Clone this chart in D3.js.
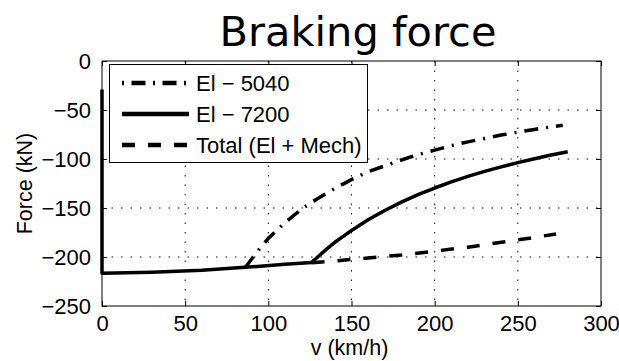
<!DOCTYPE html>
<html>
<head>
<meta charset="utf-8">
<script src="https://cdn.jsdelivr.net/npm/d3@7"></script>
<style>
  body { margin: 0; background: #fff; }
  svg text { font-family: "Liberation Sans", Arial, sans-serif; fill: #000; }
</style>
</head>
<body>
<div id="chart"></div>
<script>
const xTicks = [0, 50, 100, 150, 200, 250, 300];
const yTicks = [0, -50, -100, -150, -200, -250];
const seriesNames = ["El \u2212 5040", "El \u2212 7200", "Total (El + Mech)"];

// [v km/h, force kN]
const el5040 = [
  [86, -211], [90, -202], [95, -191], [100, -181], [105, -173], [110, -165],
  [120, -151], [130, -140], [140, -130], [150, -121], [160, -113], [170, -107],
  [180, -101], [190, -95.5], [200, -91], [210, -86.4], [220, -82.5], [230, -79],
  [240, -75.6], [250, -72.6], [260, -69.8], [270, -67.2], [277, -65.5]
];
const el7200 = [
  [0, -29], [0, -216.5], [30, -215.5], [60, -213.5], [86, -210.5], [110, -207.5],
  [126, -205.5], [128, -202.5], [131, -198], [135, -192], [140, -185], [145, -179],
  [150, -173], [160, -162], [170, -152.5], [180, -144], [190, -136.4], [200, -129.6],
  [210, -123.4], [220, -117.8], [230, -112.7], [240, -108], [250, -103.7],
  [260, -99.7], [270, -96], [280, -92.6]
];
const total = [
  [126, -205.8], [140, -204], [160, -201], [180, -198], [200, -194],
  [220, -190], [240, -185], [260, -180], [273, -176.5]
];

const W = 619, H = 361;
const margin = { top: 61, right: 18, bottom: 55, left: 102 };
const width = W - margin.left - margin.right;
const height = H - margin.top - margin.bottom;

const svg = d3.select("#chart").append("svg")
  .attr("width", W)
  .attr("height", H);

svg.append("text")
  .attr("x", 358)
  .attr("y", 46)
  .attr("text-anchor", "middle")
  .style("font-family", "'DejaVu Sans', Verdana, sans-serif")
  .style("font-size", "41.5px")
  .text("Braking force");

const g = svg.append("g").attr("transform", `translate(${margin.left},${margin.top})`);

const x = d3.scaleLinear().domain([0, 300]).range([0, width]);
const y = d3.scaleLinear().domain([-250, 0]).range([height, 0]);

// dotted grid
g.selectAll(".vgrid")
  .data(xTicks.slice(1, -1))
  .join("line")
  .attr("x1", d => x(d)).attr("x2", d => x(d))
  .attr("y1", 0).attr("y2", height)
  .attr("stroke", "#111").attr("stroke-width", 1)
  .attr("stroke-dasharray", "1.5,8");

g.selectAll(".hgrid")
  .data(yTicks.slice(1, -1))
  .join("line")
  .attr("x1", 0).attr("x2", width)
  .attr("y1", d => y(d)).attr("y2", d => y(d))
  .attr("stroke", "#111").attr("stroke-width", 1)
  .attr("stroke-dasharray", "1.5,8");

// axes with inward ticks on all four sides
const tickLen = 5;
g.append("g")
  .attr("transform", `translate(0,${height})`)
  .call(d3.axisBottom(x).tickValues(xTicks).tickSizeInner(-tickLen).tickSizeOuter(0).tickPadding(9))
  .call(a => a.select(".domain").remove())
  .call(a => a.selectAll("text").style("font-size", "22px"));

g.append("g")
  .call(d3.axisTop(x).tickValues(xTicks).tickSizeInner(-tickLen).tickSizeOuter(0).tickFormat(""))
  .call(a => a.select(".domain").remove());

g.append("g")
  .call(d3.axisLeft(y).tickValues(yTicks).tickSizeInner(-tickLen).tickSizeOuter(0).tickPadding(11))
  .call(a => a.select(".domain").remove())
  .call(a => a.selectAll("text").style("font-size", "22px"));

g.append("g")
  .attr("transform", `translate(${width},0)`)
  .call(d3.axisRight(y).tickValues(yTicks).tickSizeInner(-tickLen).tickSizeOuter(0).tickFormat(""))
  .call(a => a.select(".domain").remove());

g.append("rect")
  .attr("width", width).attr("height", height)
  .attr("fill", "none").attr("stroke", "#000").attr("stroke-width", 1);

// curves
const line = d3.line().x(d => x(d[0])).y(d => y(d[1]));
const styles = [
  { data: el5040, dash: "14,8,2,8", w: 3.5 },
  { data: el7200, dash: null, w: 3.5 },
  { data: total, dash: "13,13", w: 3.5 }
];

styles.forEach(s => {
  g.append("path")
    .datum(s.data)
    .attr("d", line)
    .attr("fill", "none")
    .attr("stroke", "#000")
    .attr("stroke-width", s.w)
    .attr("stroke-linejoin", "round")
    .attr("stroke-dasharray", s.dash);
});

// legend
const lg = svg.append("g");
lg.append("rect")
  .attr("x", 109.5).attr("y", 64.5)
  .attr("width", 258).attr("height", 98)
  .attr("fill", "#fff").attr("stroke", "#000").attr("stroke-width", 1);

const legendDash = ["14,7.5,2,7.5", null, "13,13"];
const legendOffset = [21.5, 0, 0];
const rowY = [83, 114, 145];
seriesNames.forEach((name, i) => {
  lg.append("line")
    .attr("x1", 122).attr("x2", 189)
    .attr("y1", rowY[i]).attr("y2", rowY[i])
    .attr("stroke", "#000").attr("stroke-width", 4.5)
    .attr("stroke-dasharray", legendDash[i])
    .attr("stroke-dashoffset", legendOffset[i]);
  lg.append("text")
    .attr("x", 196).attr("y", rowY[i])
    .attr("dy", "0.36em")
    .style("font-size", "22px")
    .text(name);
});

// axis labels
svg.append("text")
  .attr("x", margin.left + width / 2 - 2)
  .attr("y", 355)
  .attr("text-anchor", "middle")
  .style("font-size", "21.5px")
  .text("v (km/h)");

svg.append("text")
  .attr("transform", `translate(32,${margin.top + height / 2}) rotate(-90)`)
  .attr("text-anchor", "middle")
  .style("font-size", "21.5px")
  .text("Force (kN)");
</script>
</body>
</html>
